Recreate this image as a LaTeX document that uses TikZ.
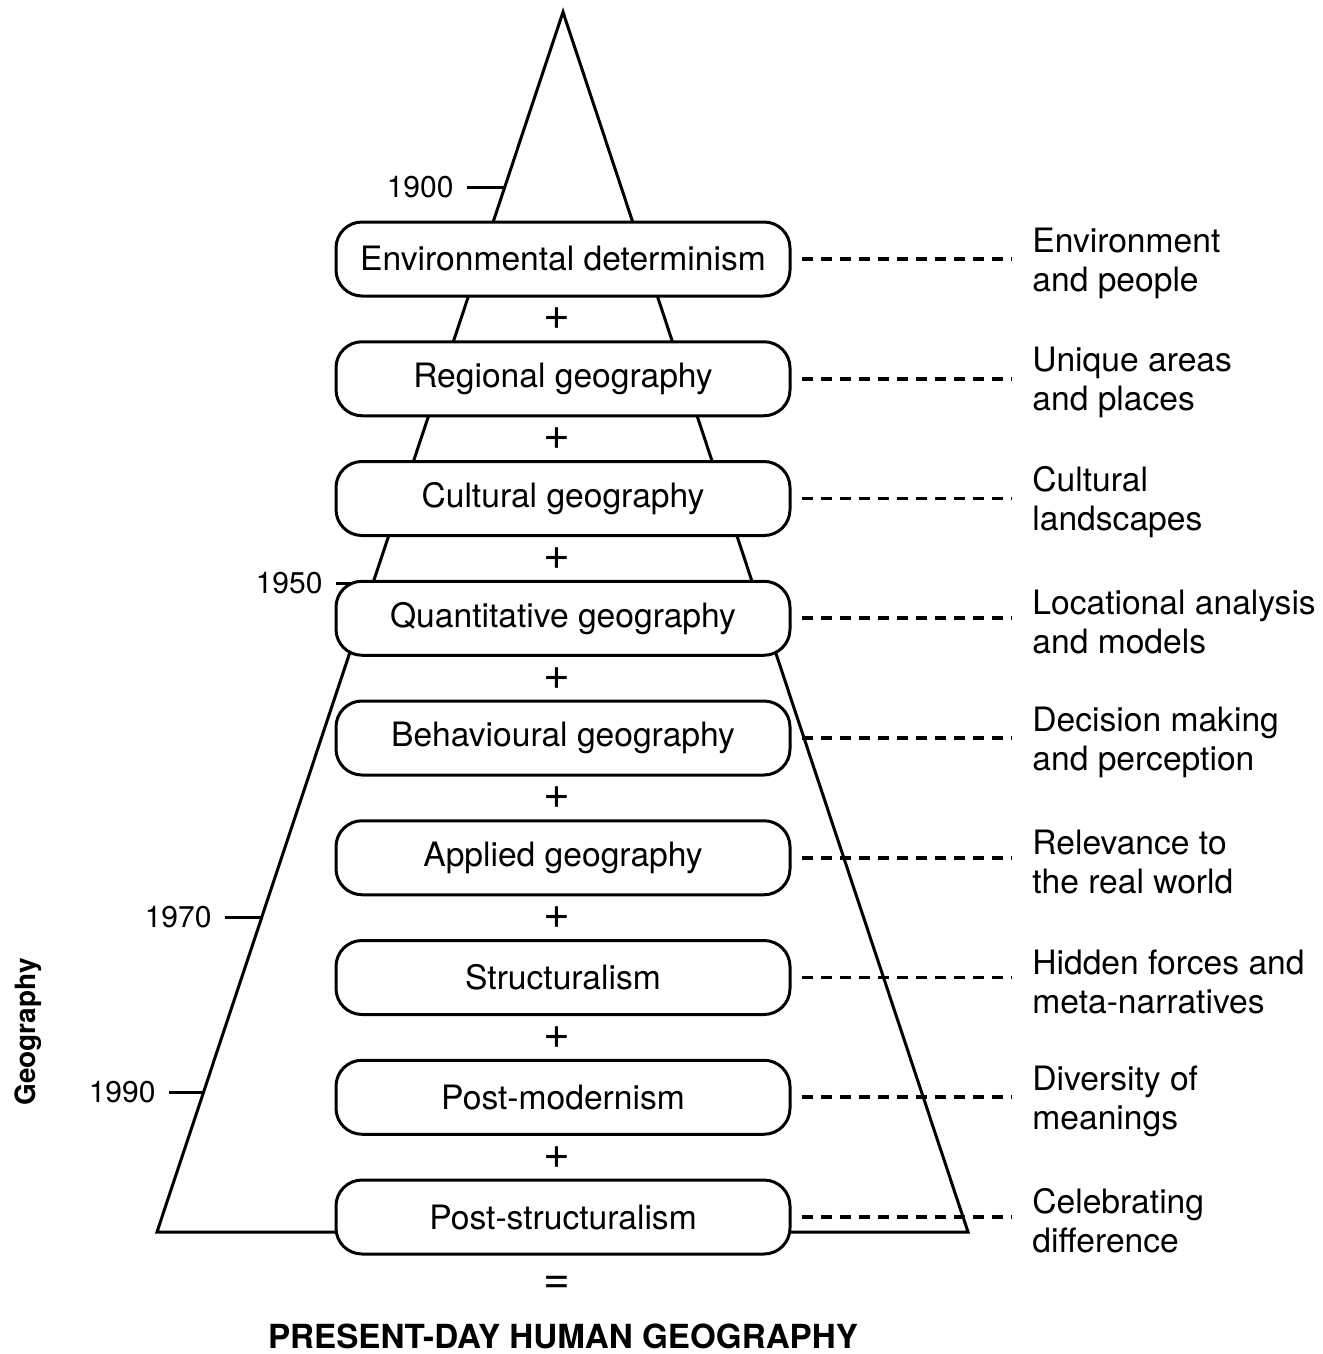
\documentclass[tikz,border=0pt]{standalone}
\usepackage{fontspec}
\setmainfont{TeX Gyre Heros}
\usetikzlibrary{positioning,calc}
\tikzset{
  basic/.style    = {font=\fontsize{16.8}{19.5}\selectfont},
  paradigm/.style = {basic, draw, line width=1.5pt, fill=white, rounded corners=13pt,
                     minimum width=227pt, minimum height=37pt, inner sep=0pt, outer sep=0pt},
  theme/.style    = {basic, align=left, inner sep=0pt, yshift=-2pt},
  sign/.style     = {font=\fontsize{23}{26}\selectfont, inner sep=0pt},
  year/.style     = {font=\fontsize{15}{18}\selectfont, inner sep=0pt, anchor=east, xshift=-6pt},
  title/.style    = {font=\bfseries\fontsize{16.6}{20}\selectfont, inner sep=0pt},
  link/.style     = {line width=1.8pt, dash pattern=on 5.5pt off 4pt, shorten <=6pt, shorten >=10pt},
  tick/.style     = {line width=1.5pt}
}

\begin{document}
\begin{tikzpicture}[x=0.5pt, y=-0.5pt, node distance=22.875pt]
\useasboundingbox (0,0) rectangle (1322,1354);

% the pyramid, drawn first so that the boxes cover it
\draw[line width=1.5pt] (157,1232) -- (563,12) -- (968,1232) -- cycle;

% dates on the left side of the pyramid
\coordinate (d1900) at (505,187);
\coordinate (d1950) at (373,583);
\coordinate (d1970) at (262,917);
\coordinate (d1990) at (204,1092);
\draw[tick] (d1900) -- ++(-38,0) node[year] (n1900) {1900};
\draw[tick] (d1950) -- ++(-37,0) node[year] (n1950) {1950};
\draw[tick] (d1970) -- ++(-37,0) node[year] (n1970) {1970};
\draw[tick] (d1990) -- ++(-35,0) node[year] (n1990) {1990};

% the paradigms, stacked one below the other
\node[paradigm] (p1) at (563,259) {Environmental determinism};
\node[paradigm, below=of p1] (p2) {Regional geography};
\node[paradigm, below=of p2] (p3) {Cultural geography};
\node[paradigm, below=of p3] (p4) {Quantitative geography};
\node[paradigm, below=of p4] (p5) {Behavioural geography};
\node[paradigm, below=of p5] (p6) {Applied geography};
\node[paradigm, below=of p6] (p7) {Structuralism};
\node[paradigm, below=of p7] (p8) {Post-modernism};
\node[paradigm, below=of p8] (p9) {Post-structuralism};

% plus signs between the boxes
\node[sign] (s1) at ([xshift=-3pt]$(p1.south)!0.5!(p2.north)$) {+};
\node[sign] (s2) at ([xshift=-3pt]$(p2.south)!0.5!(p3.north)$) {+};
\node[sign] (s3) at ([xshift=-3pt]$(p3.south)!0.5!(p4.north)$) {+};
\node[sign] (s4) at ([xshift=-3pt]$(p4.south)!0.5!(p5.north)$) {+};
\node[sign] (s5) at ([xshift=-3pt]$(p5.south)!0.5!(p6.north)$) {+};
\node[sign] (s6) at ([xshift=-3pt]$(p6.south)!0.5!(p7.north)$) {+};
\node[sign] (s7) at ([xshift=-3pt]$(p7.south)!0.5!(p8.north)$) {+};
\node[sign] (s8) at ([xshift=-3pt]$(p8.south)!0.5!(p9.north)$) {+};
\node[sign] (eq) at ([xshift=-3pt, yshift=-15.5pt]p9.south) {=};

\node[title] (hg) at ([yshift=-41pt]p9.south) {PRESENT-DAY HUMAN GEOGRAPHY};
\node[title, rotate=90, font=\bfseries\fontsize{14}{17}\selectfont] (geo) at (28,1032) {Geography};

% the themes on the right
\node[theme, right=121pt of p1, anchor=west] (k1) {Environment\\and people};
\node[theme, right=121pt of p2, anchor=west] (k2) {Unique areas\\and places};
\node[theme, right=121pt of p3, anchor=west] (k3) {Cultural\\landscapes};
\node[theme, right=121pt of p4, anchor=west] (k4) {Locational analysis\\and models};
\node[theme, right=121pt of p5, anchor=west] (k5) {Decision making\\and perception};
\node[theme, right=121pt of p6, anchor=west] (k6) {Relevance to\\the real world};
\node[theme, right=121pt of p7, anchor=west] (k7) {Hidden forces and\\meta-narratives};
\node[theme, right=121pt of p8, anchor=west] (k8) {Diversity of\\meanings};
\node[theme, right=121pt of p9, anchor=west] (k9) {Celebrating\\difference};

\draw[link] (p1.east) -- (p1.east -| k1.west);
\draw[link] (p2.east) -- (p2.east -| k2.west);
\draw[link] (p3.east) -- (p3.east -| k3.west);
\draw[link] (p4.east) -- (p4.east -| k4.west);
\draw[link] (p5.east) -- (p5.east -| k5.west);
\draw[link] (p6.east) -- (p6.east -| k6.west);
\draw[link] (p7.east) -- (p7.east -| k7.west);
\draw[link] (p8.east) -- (p8.east -| k8.west);
\draw[link] (p9.east) -- (p9.east -| k9.west);
\end{tikzpicture}
\end{document}
